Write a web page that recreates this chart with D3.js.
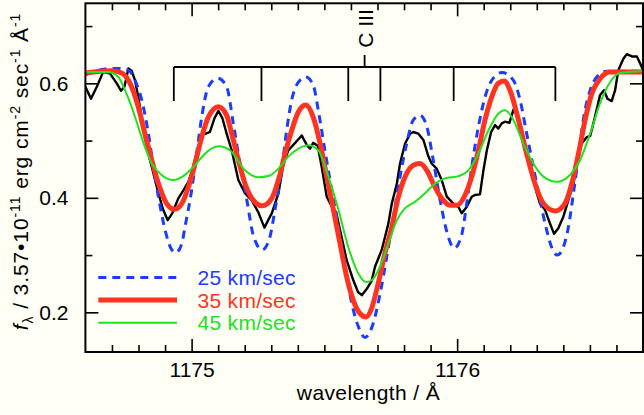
<!DOCTYPE html>
<html>
<head>
<meta charset="utf-8">
<script src="https://cdn.jsdelivr.net/npm/d3@7"></script>
<style>
  html, body { margin: 0; padding: 0; background: #fffff5; }
  svg { display: block; }
</style>
</head>
<body>
<svg id="chart" width="644" height="415"></svg>
<script>
// ---------------- data ----------------
const xTickLabels = [1175, 1176];
const xMinorTicks = [1174.7,1174.8,1174.9,1175.1,1175.2,1175.3,1175.4,1175.5,1175.6,1175.7,1175.8,1175.9,1176.1,1176.2,1176.3,1176.4,1176.5,1176.6];
const yTickLabels = [0.2, 0.4, 0.6];
const yMinorTicks = [0.3, 0.5, 0.7];

const cIIILines = [1174.933, 1175.263, 1175.590, 1175.711, 1175.987, 1176.370];
const ionLabel = "C III";

const seriesNames = ["25 km/sec", "35 km/sec", "45 km/sec"];

// observed spectrum [wavelength, flux]
const observed = [[1174.600,.594],[1174.621,.573],[1174.643,.594],[1174.667,.620],[1174.693,.617],[1174.718,.600],[1174.734,.587],[1174.747,.594],[1174.762,.626],[1174.774,.622],[1174.787,.605],[1174.799,.576],[1174.812,.541],[1174.824,.506],[1174.837,.477],[1174.856,.443],[1174.875,.408],[1174.893,.379],[1174.910,.361],[1174.927,.373],[1174.950,.399],[1174.969,.413],[1174.988,.428],[1175.006,.454],[1175.025,.489],[1175.040,.512],[1175.053,.512],[1175.069,.515],[1175.086,.539],[1175.101,.552],[1175.116,.539],[1175.132,.512],[1175.151,.483],[1175.176,.431],[1175.201,.408],[1175.226,.396],[1175.251,.375],[1175.274,.348],[1175.302,.373],[1175.327,.408],[1175.345,.457],[1175.364,.483],[1175.390,.496],[1175.415,.509],[1175.434,.492],[1175.446,.486],[1175.458,.496],[1175.475,.491],[1175.490,.454],[1175.509,.402],[1175.525,.387],[1175.544,.375],[1175.559,.344],[1175.584,.291],[1175.609,.256],[1175.627,.235],[1175.641,.230],[1175.660,.241],[1175.678,.255],[1175.691,.280],[1175.716,.309],[1175.741,.355],[1175.754,.390],[1175.773,.425],[1175.785,.460],[1175.804,.495],[1175.823,.512],[1175.835,.515],[1175.854,.512],[1175.873,.501],[1175.892,.472],[1175.904,.460],[1175.923,.451],[1175.942,.431],[1175.961,.402],[1175.986,.390],[1176.005,.384],[1176.017,.373],[1176.036,.384],[1176.055,.402],[1176.067,.405],[1176.086,.406],[1176.099,.448],[1176.112,.483],[1176.128,.515],[1176.143,.527],[1176.155,.521],[1176.168,.530],[1176.180,.533],[1176.197,.531],[1176.212,.554],[1176.225,.544],[1176.243,.506],[1176.262,.472],[1176.281,.443],[1176.300,.408],[1176.312,.390],[1176.331,.379],[1176.350,.355],[1176.365,.337],[1176.381,.347],[1176.400,.367],[1176.419,.396],[1176.438,.425],[1176.457,.472],[1176.469,.495],[1176.488,.506],[1176.501,.508],[1176.519,.541],[1176.538,.579],[1176.553,.588],[1176.566,.573],[1176.582,.569],[1176.595,.588],[1176.607,.623],[1176.626,.643],[1176.639,.651],[1176.658,.647],[1176.677,.647],[1176.689,.635],[1176.700,.623]];

// model 25 km/sec
const model25 = [[1174.600,.615],[1174.674,.625],[1174.724,.626],[1174.762,.623],[1174.787,.605],[1174.812,.571],[1174.837,.513],[1174.856,.454],[1174.875,.402],[1174.900,.344],[1174.922,.312],[1174.940,.304],[1174.963,.320],[1174.975,.349],[1175.000,.413],[1175.019,.477],[1175.038,.541],[1175.063,.594],[1175.098,.609],[1175.132,.594],[1175.157,.530],[1175.182,.460],[1175.208,.396],[1175.232,.335],[1175.266,.309],[1175.295,.332],[1175.314,.379],[1175.339,.448],[1175.358,.518],[1175.377,.571],[1175.402,.602],[1175.430,.611],[1175.458,.597],[1175.477,.553],[1175.502,.483],[1175.528,.413],[1175.553,.349],[1175.578,.280],[1175.603,.216],[1175.628,.175],[1175.653,.156],[1175.684,.181],[1175.710,.233],[1175.735,.297],[1175.760,.367],[1175.785,.437],[1175.810,.495],[1175.835,.536],[1175.860,.544],[1175.886,.524],[1175.910,.466],[1175.936,.396],[1175.961,.341],[1175.989,.312],[1176.017,.335],[1176.036,.390],[1176.055,.454],[1176.080,.524],[1176.105,.576],[1176.130,.605],[1176.169,.619],[1176.212,.605],[1176.237,.571],[1176.262,.512],[1176.287,.454],[1176.312,.396],[1176.337,.344],[1176.360,.309],[1176.377,.300],[1176.400,.314],[1176.419,.349],[1176.438,.408],[1176.457,.472],[1176.475,.536],[1176.501,.588],[1176.526,.611],[1176.564,.621],[1176.700,.621]];

// model 35 km/sec
const model35 = [[1174.600,.618],[1174.699,.622],[1174.737,.618],[1174.774,.594],[1174.799,.559],[1174.824,.512],[1174.850,.466],[1174.875,.425],[1174.906,.390],[1174.935,.380],[1174.963,.390],[1174.988,.419],[1175.013,.460],[1175.038,.506],[1175.063,.541],[1175.101,.559],[1175.132,.544],[1175.151,.512],[1175.176,.466],[1175.201,.425],[1175.232,.396],[1175.266,.386],[1175.302,.399],[1175.327,.431],[1175.352,.477],[1175.377,.518],[1175.402,.550],[1175.430,.562],[1175.458,.541],[1175.484,.495],[1175.509,.437],[1175.534,.379],[1175.559,.320],[1175.584,.262],[1175.609,.221],[1175.634,.198],[1175.657,.192],[1175.678,.207],[1175.703,.251],[1175.728,.303],[1175.754,.349],[1175.779,.402],[1175.804,.437],[1175.835,.457],[1175.860,.460],[1175.886,.448],[1175.910,.425],[1175.942,.399],[1175.973,.387],[1175.999,.387],[1176.030,.405],[1176.055,.437],[1176.080,.483],[1176.105,.536],[1176.130,.576],[1176.155,.600],[1176.177,.604],[1176.199,.588],[1176.231,.536],[1176.262,.477],[1176.293,.425],[1176.325,.390],[1176.369,.377],[1176.406,.390],[1176.432,.425],[1176.457,.477],[1176.482,.536],[1176.507,.582],[1176.538,.608],[1176.576,.620],[1176.700,.620]];

// model 45 km/sec
const model45 = [[1174.600,.620],[1174.686,.620],[1174.724,.611],[1174.749,.588],[1174.774,.559],[1174.799,.524],[1174.824,.489],[1174.850,.460],[1174.887,.440],[1174.931,.431],[1174.975,.440],[1175.013,.457],[1175.050,.477],[1175.101,.490],[1175.145,.483],[1175.201,.448],[1175.251,.436],[1175.289,.438],[1175.327,.451],[1175.364,.472],[1175.402,.486],[1175.440,.492],[1175.477,.483],[1175.515,.437],[1175.553,.379],[1175.590,.314],[1175.628,.268],[1175.657,.253],[1175.678,.256],[1175.710,.280],[1175.741,.320],[1175.773,.361],[1175.804,.382],[1175.841,.393],[1175.879,.408],[1175.917,.425],[1175.954,.434],[1176.005,.438],[1176.042,.448],[1176.080,.477],[1176.118,.518],[1176.155,.547],[1176.180,.553],[1176.212,.536],[1176.249,.495],[1176.287,.460],[1176.325,.437],[1176.375,.428],[1176.425,.440],[1176.463,.466],[1176.501,.512],[1176.538,.565],[1176.576,.602],[1176.614,.618],[1176.700,.621]];

// ---------------- drawing ----------------
(function () {
const FONT = "'Liberation Sans', Arial, Helvetica, sans-serif";
const FS = 21;
const colors = { obs: "#000000", m25: "#1a3cff", m35: "#ff3322", m45: "#22e022" };

const svg = d3.select("#chart");
svg.append("rect").attr("width", 644).attr("height", 415).attr("fill", "#fffff5");

const pL = 85.4, pR = 643, pT = 3.3, pB = 352;
const x = d3.scaleLinear().domain([1174.6, 1176.7]).range([pL, pR]);
const y = d3.scaleLinear().domain([0.1307, 0.7398]).range([pB, pT]);

svg.append("clipPath").attr("id", "clip")
  .append("rect").attr("x", pL).attr("y", pT).attr("width", pR - pL).attr("height", pB - pT);

function styleAxis(g) {
  g.select(".domain").remove();
  g.selectAll(".tick line").attr("stroke", "#000").attr("stroke-width", 1.6);
  g.selectAll("text").attr("font-family", FONT).attr("font-size", FS).attr("fill", "#000");
}
svg.append("g").attr("transform", `translate(0,${pB})`)
  .call(d3.axisBottom(x).tickValues(xTickLabels).tickSize(-13).tickPadding(10).tickFormat(d3.format("d"))).call(styleAxis);
svg.append("g").attr("transform", `translate(0,${pB})`)
  .call(d3.axisBottom(x).tickValues(xMinorTicks).tickSize(-7).tickFormat("")).call(styleAxis);
svg.append("g").attr("transform", `translate(0,${pT})`)
  .call(d3.axisTop(x).tickValues(xTickLabels).tickSize(-13).tickFormat("")).call(styleAxis);
svg.append("g").attr("transform", `translate(0,${pT})`)
  .call(d3.axisTop(x).tickValues(xMinorTicks).tickSize(-7).tickFormat("")).call(styleAxis);
svg.append("g").attr("transform", `translate(${pL},0)`)
  .call(d3.axisLeft(y).tickValues(yTickLabels).tickSize(-13).tickPadding(17).tickFormat(d3.format(".1f"))).call(styleAxis);
svg.append("g").attr("transform", `translate(${pL},0)`)
  .call(d3.axisLeft(y).tickValues(yMinorTicks).tickSize(-7).tickFormat("")).call(styleAxis);
svg.append("g").attr("transform", `translate(${pR},0)`)
  .call(d3.axisRight(y).tickValues(yTickLabels).tickSize(-13).tickFormat("")).call(styleAxis);
svg.append("g").attr("transform", `translate(${pR},0)`)
  .call(d3.axisRight(y).tickValues(yMinorTicks).tickSize(-7).tickFormat("")).call(styleAxis);

// line list bracket
const barY = 67, dropY = 101, stubY = 55;
const br = svg.append("g").attr("stroke", "#000").attr("stroke-width", 1.8).attr("fill", "none");
br.append("line").attr("x1", x(d3.min(cIIILines))).attr("x2", x(d3.max(cIIILines))).attr("y1", barY).attr("y2", barY);
br.selectAll("line.drop").data(cIIILines).join("line").attr("class", "drop")
  .attr("x1", d => x(d)).attr("x2", d => x(d)).attr("y1", barY).attr("y2", dropY);
const cMid = (d3.min(cIIILines) + d3.max(cIIILines)) / 2;
br.append("line").attr("x1", x(cMid)).attr("x2", x(cMid)).attr("y1", stubY).attr("y2", barY);
svg.append("text").attr("transform", `translate(${x(cMid) + 8},28.5) rotate(-90)`)
  .attr("text-anchor", "middle").attr("font-family", FONT).attr("font-size", FS).text(ionLabel);

// curves
const plot = svg.append("g").attr("clip-path", "url(#clip)");
const smooth = d3.line().x(d => x(d[0])).y(d => y(d[1])).curve(d3.curveMonotoneX);
const jag = d3.line().x(d => x(d[0])).y(d => y(d[1])).curve(d3.curveLinear);

plot.append("path").datum(observed).attr("d", jag).attr("fill", "none")
  .attr("stroke", colors.obs).attr("stroke-width", 2.4).attr("stroke-linejoin", "round");
plot.append("path").datum(model25).attr("d", smooth).attr("fill", "none")
  .attr("stroke", colors.m25).attr("stroke-width", 3).attr("stroke-dasharray", "8,6");
plot.append("path").datum(model35).attr("d", smooth).attr("fill", "none")
  .attr("stroke", colors.m35).attr("stroke-width", 5);
plot.append("path").datum(model45).attr("d", smooth).attr("fill", "none")
  .attr("stroke", colors.m45).attr("stroke-width", 2);

// frame
svg.append("rect").attr("x", pL).attr("y", pT).attr("width", pR - pL).attr("height", pB - pT)
  .attr("fill", "none").attr("stroke", "#000").attr("stroke-width", 2);

// legend
const legend = [
  { name: seriesNames[0], color: colors.m25, w: 3, dash: "8,6", ly: 277.5 },
  { name: seriesNames[1], color: colors.m35, w: 5, dash: null, ly: 300 },
  { name: seriesNames[2], color: colors.m45, w: 2, dash: null, ly: 322.7 }
];
const lg = svg.append("g");
legend.forEach(l => {
  lg.append("line").attr("x1", 98.3).attr("x2", 177).attr("y1", l.ly).attr("y2", l.ly)
    .attr("stroke", l.color).attr("stroke-width", l.w).attr("stroke-dasharray", l.dash);
  lg.append("text").attr("x", 197.5).attr("y", l.ly + 7.5).attr("font-family", FONT).attr("font-size", FS)
    .attr("letter-spacing", 0.3).attr("fill", l.color).text(l.name);
});

// axis titles
svg.append("text").attr("x", 368.5).attr("y", 400).attr("text-anchor", "middle")
  .attr("font-family", FONT).attr("font-size", FS).attr("letter-spacing", 0.4).text("wavelength / Å");

const yl = svg.append("text").attr("transform", "translate(28,171.5) rotate(-90)")
  .attr("text-anchor", "middle").attr("font-family", FONT).attr("font-size", FS)
  .attr("letter-spacing", 0.9);
const SUB = 14;
yl.append("tspan").attr("font-style", "italic").text("f");
yl.append("tspan").attr("font-size", SUB).attr("dy", 5).text("λ");
yl.append("tspan").attr("dy", -5).text(" / 3.57•10");
yl.append("tspan").attr("font-size", SUB).attr("dy", -8).text("-11");
yl.append("tspan").attr("dy", 8).text(" erg cm");
yl.append("tspan").attr("font-size", SUB).attr("dy", -8).text("-2");
yl.append("tspan").attr("dy", 8).text(" sec");
yl.append("tspan").attr("font-size", SUB).attr("dy", -8).text("-1");
yl.append("tspan").attr("dy", 8).text(" Å");
yl.append("tspan").attr("font-size", SUB).attr("dy", -8).text("-1");
})();
</script>
</body>
</html>
